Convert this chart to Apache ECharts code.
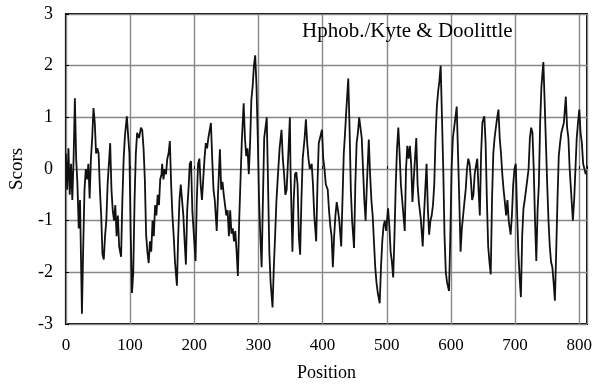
<!DOCTYPE html>
<html>
<head>
<meta charset="utf-8">
<script src="https://cdn.jsdelivr.net/npm/echarts@6/dist/echarts.min.js"></script>
<style>html,body{margin:0;padding:0;background:#fff}#c{width:599px;height:387px}</style>
</head>
<body>
<div id="c"></div>
<script>
const positions = [0,2,4,6,8,10,12,14,16,18,20,22,25,27,29,31,33,35,37,39,41,43,45,47,49,51,53,55,57,59,61,63,65,67,69,71,73,75,77,79,81,83,86,88,90,92,95,97,99,101,103,105,107,109,111,114,117,119,121,123,125,127,129,131,133,135,137,139,141,143,145,147,149,150,152,154,156,158,160,162,164,166,168,170,173,175,177,179,181,183,185,187,189,191,193,195,197,199,202,204,206,208,210,212,214,216,218,220,222,226,228,230,232,235,237,240,242,244,246,248,250,252,254,256,258,260,262,264,266,268,270,272,274,277,279,281,283,285,287,289,291,293,295,297,299,301,303,305,307,309,311,313,315,317,319,322,324,326,328,330,333,336,338,340,342,344,347,349,350,353,355,357,359,361,363,365,367,369,372,374,376,378,380,383,385,387,390,392,394,396,399,401,403,405,408,410,412,414,416,418,420,422,424,426,429,431,433,435,437,440,442,444,446,449,451,453,455,457,459,461,463,465,467,469,472,474,476,478,480,482,484,486,489,491,493,495,497,499,502,504,506,508,510,512,514,516,518,520,522,524,526,528,530,532,534,536,538,540,542,544,546,548,550,553,556,558,560,562,564,566,568,570,572,574,576,578,580,582,584,586,588,590,592,594,597,599,601,603,606,609,611,613,615,617,619,621,623,625,627,629,631,633,635,637,639,641,643,645,647,649,652,654,656,658,660,662,664,666,668,671,674,676,678,680,682,684,686,688,690,693,695,697,699,701,703,705,707,709,711,713,715,717,719,721,723,725,727,729,731,733,735,737,739,741,744,746,748,750,752,754,756,758,760,762,764,766,768,770,772,774,776,779,781,783,785,787,790,792,794,796,798,800,802,804,806,808,810];
const scores = [0.3,-0.4,0.4,-0.5,0.1,-0.6,0.2,1.37,0.2,-0.3,-1.15,-0.6,-2.8,-1.5,-0.4,0.0,-0.2,0.1,-0.57,0.2,0.6,1.18,0.9,0.3,0.4,0.3,-0.4,-0.9,-1.65,-1.75,-1.3,-1.0,-0.3,0.1,0.5,-0.4,-0.8,-1.0,-0.7,-1.3,-0.9,-1.5,-1.7,-0.6,0.2,0.64,1.02,0.64,0.3,-1.27,-2.4,-2.0,-0.6,0.3,0.7,0.6,0.8,0.75,0.4,-0.2,-1.27,-1.6,-1.82,-1.4,-1.6,-1.0,-1.3,-0.7,-0.9,-0.5,-0.7,-0.2,-0.1,0.1,-0.2,0.0,-0.1,0.2,0.3,0.54,-0.3,-0.9,-1.3,-1.8,-2.26,-1.3,-0.6,-0.3,-0.6,-0.9,-1.4,-1.85,-0.8,-0.4,0.1,0.15,-0.8,-1.2,-1.78,-0.6,0.1,0.2,-0.3,-0.6,-0.2,0.2,0.5,0.4,0.6,0.89,0.2,-0.4,-0.6,-1.2,-0.5,0.38,-0.4,-0.25,-0.5,-0.7,-0.9,-0.8,-1.3,-0.8,-1.25,-1.15,-1.4,-1.2,-1.6,-2.07,-1.0,-0.25,0.5,1.27,0.6,0.25,0.4,-0.1,0.5,1.34,1.6,2.0,2.2,1.6,0.6,-0.6,-1.3,-1.9,-0.6,0.6,0.8,1.0,-0.3,-1.6,-2.2,-2.68,-1.9,-1.3,-0.64,-0.2,0.4,0.76,0.2,-0.1,-0.5,-0.4,0.4,1.0,0.0,-1.6,-0.6,-0.1,-0.06,-0.3,-1.3,-1.66,-0.6,0.2,0.6,0.96,0.5,0.2,0.0,0.1,-0.3,-0.9,-1.4,-0.3,0.5,0.6,0.76,0.2,0.0,-0.3,-0.4,-0.8,-1.1,-1.3,-1.9,-1.3,-0.9,-0.64,-0.8,-1.0,-1.5,-0.6,0.3,0.7,1.15,1.75,0.8,-0.4,-1.0,-1.53,-0.3,0.5,0.7,1.0,1.0,0.6,0.0,-0.6,-1.0,-0.3,0.57,-0.1,-0.6,-0.9,-1.4,-1.9,-2.2,-2.4,-2.6,-1.9,-1.4,-1.1,-1.0,-1.2,-0.76,-1.1,-1.6,-1.8,-2.1,-1.3,-0.3,0.4,0.8,0.3,-0.3,-0.6,-0.9,-1.2,0.0,0.45,0.2,0.45,0.1,-0.64,-0.2,0.2,0.6,-0.3,-0.64,-0.96,-1.5,-0.9,-0.4,0.1,-0.76,-1.27,-1.0,-0.9,-0.7,-0.3,0.6,1.2,1.5,1.7,2.0,1.0,0.0,-1.3,-2.0,-2.2,-2.36,-1.3,0.0,0.6,0.9,1.21,0.3,-0.6,-1.6,-1.15,-0.9,-0.64,-0.4,0.0,0.2,0.1,-0.2,-0.6,-0.5,-0.1,0.06,0.2,-0.4,-0.9,0.3,0.9,1.02,0.5,-0.6,-1.5,-1.8,-2.04,-0.6,0.3,0.6,0.9,1.15,0.6,0.3,-0.1,-0.4,-0.64,-0.9,-0.6,-1.0,-1.27,-0.9,-0.3,0.0,0.1,-0.8,-1.6,-2.1,-2.48,-1.3,-0.76,-0.6,-0.4,-0.2,0.0,0.6,0.8,0.7,0.0,-1.0,-1.78,-0.8,-0.3,0.9,1.6,2.07,1.3,0.5,-0.3,-1.0,-1.5,-1.8,-1.9,-2.2,-2.55,-1.6,-0.6,0.25,0.5,0.7,0.8,0.9,1.4,0.8,0.6,0.0,-0.4,-1.0,-0.6,0.0,0.6,0.9,1.15,0.7,0.5,0.1,0.0,-0.1];
const xTicks = [0,100,200,300,400,500,600,700,800];
const yTicks = [-3,-2,-1,0,1,2,3];
const titleText = 'Hphob./Kyte & Doolittle';
const xName = 'Position';
const yName = 'Scors';

const serif = '"Liberation Serif", "DejaVu Serif", serif';
const chart = echarts.init(document.getElementById('c'), null, {renderer: 'canvas'});
chart.setOption({
  animation: false,
  backgroundColor: '#fff',
  grid: {left: 63, top: 14, right: 12, bottom: 59, show: true, borderColor: '#000', borderWidth: 2, backgroundColor: 'transparent'},
  graphic: [{type: 'text', z: 100, style: {text: titleText, x: 302, y: 31, fill: '#000', font: '21px ' + serif, verticalAlign: 'middle'}}],
  xAxis: {
    type: 'value', min: 0, max: 812, interval: 100,
    name: xName, nameLocation: 'middle', nameGap: 40,
    nameTextStyle: {fontFamily: serif, fontSize: 18, color: '#000'},
    axisLine: {show: false},
    axisTick: {show: true, inside: true, length: 3, lineStyle: {color: '#000'}},
    axisLabel: {fontFamily: serif, fontSize: 17, color: '#000', margin: 13,
      formatter: v => xTicks.indexOf(v) >= 0 ? String(v) : ''},
    splitLine: {show: true, lineStyle: {color: '#888', width: 1.4}}
  },
  yAxis: {
    type: 'value', min: -3, max: 3, interval: 1,
    name: yName, nameLocation: 'middle', nameGap: 38, nameRotate: 90,
    nameTextStyle: {fontFamily: serif, fontSize: 19, color: '#000'},
    axisLine: {show: false},
    axisTick: {show: true, inside: true, length: 3, lineStyle: {color: '#000'}},
    axisLabel: {fontFamily: serif, fontSize: 18, color: '#000', margin: 13,
      formatter: v => yTicks.indexOf(v) >= 0 ? String(v) : ''},
    splitLine: {show: true, lineStyle: {color: '#888', width: 1.4}}
  },
  series: [{
    type: 'line', showSymbol: false, symbol: 'none',
    data: positions.map((p, i) => [p, scores[i]]),
    lineStyle: {color: '#111', width: 1.8}
  }]
});
</script>
</body>
</html>
